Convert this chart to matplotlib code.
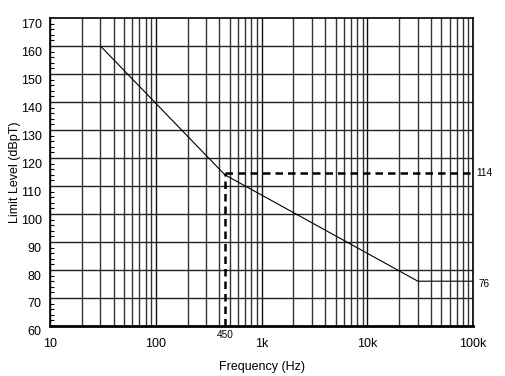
import numpy as np
import matplotlib.pyplot as plt
import matplotlib.transforms as mtransforms
from matplotlib.ticker import FixedLocator, MultipleLocator

plt.rcParams["font.family"] = ["Liberation Sans", "DejaVu Sans"]

# Limit curve (frequency in Hz, level in dBpT)
freq = [30, 450, 30000, 100000]
level = [160, 114, 76, 76]

# Marker at the corner frequency
mark_freq = 450
mark_level = 114.5

x_ticks = [10, 100, 1000, 10000, 100000]
x_tick_labels = ["10", "100", "1k", "10k", "100k"]
y_ticks = list(range(60, 180, 10))


def main():
    fig = plt.figure(figsize=(5.05, 3.76), dpi=100)
    ax = fig.add_axes([0.099, 0.133, 0.838, 0.819])

    ax.set_xscale("log")
    ax.set_xlim(10, 100000)
    ax.set_ylim(60, 170)

    # grid: decades and 2..9 sub-lines, every 10 dB horizontally
    minors = [m * 10 ** d for d in range(1, 5) for m in range(2, 10)]
    for f in minors:
        ax.axvline(f, color="#333333", lw=1.0, zorder=1)
    for f in x_ticks:
        ax.axvline(f, color="#111111", lw=1.0, zorder=1)
    for y in y_ticks[1:-1]:
        ax.axhline(y, color="#222222", lw=1.0, zorder=1)

    ax.plot(freq, level, color="black", lw=0.8, zorder=3)

    ax.plot([mark_freq, mark_freq], [60, mark_level], color="black",
            lw=1.8, ls=(0, (3, 2)), zorder=4)
    ax.plot([mark_freq, 100000], [mark_level, mark_level], color="black",
            lw=1.8, ls=(0, (3, 2)), zorder=4)

    ax.xaxis.set_major_locator(FixedLocator(x_ticks))
    ax.xaxis.set_minor_locator(FixedLocator([]))
    ax.set_xticklabels(x_tick_labels)
    ax.yaxis.set_major_locator(FixedLocator(y_ticks))
    ax.yaxis.set_minor_locator(MultipleLocator(2))
    ax.tick_params(axis="y", which="minor", direction="in", length=3,
                   width=0.8)
    ax.tick_params(axis="y", which="major", direction="in", length=0,
                   labelsize=9, pad=6)
    ax.tick_params(axis="x", which="major", length=0, labelsize=9, pad=9)

    # y labels in the reference sit a little below their grid lines
    shift = mtransforms.ScaledTranslation(0, -3.6 / 72, fig.dpi_scale_trans)
    for lab in ax.get_yticklabels():
        lab.set_transform(lab.get_transform() + shift)

    for s in ax.spines.values():
        s.set_linewidth(1.2)
    ax.spines["bottom"].set_linewidth(2.0)

    ax.text(mark_freq, 58.5, "450", ha="center", va="top", fontsize=7.2)
    ax.text(1.008, 114.5, "114", transform=ax.get_yaxis_transform(),
            ha="left", va="center", fontsize=7.2)
    ax.text(1.013, 75, "76", transform=ax.get_yaxis_transform(),
            ha="left", va="center", fontsize=7.2)

    ax.set_xlabel("Frequency (Hz)", fontsize=9)
    ax.xaxis.set_label_coords(0.5, -0.113)
    ax.set_ylabel("Limit Level (dBpT)", fontsize=9)
    ax.yaxis.set_label_coords(-0.069, 0.5)

    fig.savefig("out.png", dpi=100)


main()
